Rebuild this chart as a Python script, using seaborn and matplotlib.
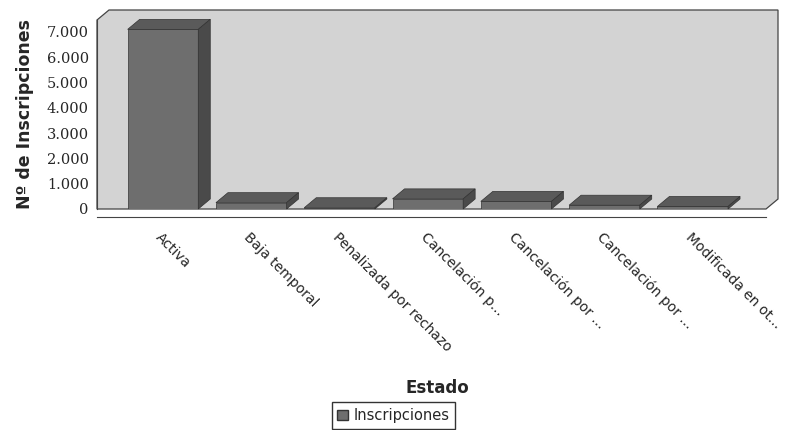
import matplotlib
matplotlib.use("Agg")
import matplotlib.pyplot as plt
import seaborn as sns
import pandas as pd
from matplotlib.patches import Polygon, Patch
from matplotlib.ticker import FuncFormatter, MultipleLocator

# data
estados = ["Activa", "Baja temporal", "Penalizada por rechazo", "Cancelación p...",
           "Cancelación por ...", "Cancelación por ...", "Modificada en ot..."]
inscripciones = [7100, 250, 50, 400, 300, 150, 100]

df = pd.DataFrame({"pos": range(len(estados)), "Inscripciones": inscripciones})

sns.set_style("white")
plt.rcParams["font.family"] = ["DejaVu Sans"]

W, H = 787, 430
fig = plt.figure(figsize=(W / 100, H / 100), dpi=100)
# front plane of the 3d plot
ax_l, ax_r, ax_b, ax_t = 97, 766, 209, 20
ax = fig.add_axes([ax_l / W, 1 - ax_b / H, (ax_r - ax_l) / W, (ax_b - ax_t) / H])
ax.patch.set_alpha(0)

sns.barplot(data=df, x="pos", y="Inscripciones", color="#6e6e6e", width=0.8,
            saturation=1, ax=ax, zorder=3)

xmin, xmax = -0.747, 6.83
ymax = 7470
ax.set_xlim(xmin, xmax)
ax.set_ylim(0, ymax)

# 3d depth offset in pixels
dx_px, dy_px = 12, 10
px_x = (ax_r - ax_l) / (xmax - xmin)
px_y = (ax_b - ax_t) / ymax
ddx, ddy = dx_px / px_x, dy_px / px_y

bars = list(ax.patches)

# back wall
fx, fy = dx_px / (ax_r - ax_l), dy_px / (ax_b - ax_t)
wall = Polygon([(0, 0), (0, 1), (fx, 1 + fy), (1 + fx, 1 + fy), (1 + fx, fy), (1, 0)],
               closed=True, transform=ax.transAxes, facecolor="#d3d3d3",
               edgecolor="#444444", lw=0.9, clip_on=False, zorder=0)
ax.add_patch(wall)

# top and side faces of the bars
for bar in bars:
    x0, w, h = bar.get_x(), bar.get_width(), bar.get_height()
    x1 = x0 + w
    top = Polygon([(x0, h), (x1, h), (x1 + ddx, h + ddy), (x0 + ddx, h + ddy)],
                  facecolor="#5a5a5a", edgecolor="#333333", lw=0.5, clip_on=False, zorder=4)
    side = Polygon([(x1, 0), (x1, h), (x1 + ddx, h + ddy), (x1 + ddx, ddy)],
                   facecolor="#4a4a4a", edgecolor="#333333", lw=0.5, clip_on=False, zorder=4)
    ax.add_patch(top)
    ax.add_patch(side)
    bar.set_edgecolor("#333333")
    bar.set_linewidth(0.5)

sns.despine(ax=ax, top=True, right=True)
ax.spines["left"].set_color("#444444")
ax.spines["bottom"].set_color("#444444")
ax.spines["bottom"].set_position(("outward", 6))

ax.yaxis.set_major_locator(MultipleLocator(1000))
ax.yaxis.set_major_formatter(FuncFormatter(lambda v, p: f"{int(v):,}".replace(",", ".")))
ax.tick_params(axis="y", labelsize=10.5, length=3, color="#444444", pad=3)
for t in ax.get_yticklabels():
    t.set_family("DejaVu Serif")

ax.set_xticks(range(len(estados)))
ax.set_xticklabels(estados, rotation=-45, ha="left", va="top",
                   rotation_mode="anchor", fontsize=10,
                   family=["Liberation Sans Narrow", "DejaVu Sans"])
ax.tick_params(axis="x", length=3, color="#444444", pad=6)

ax.set_ylabel("Nº de Inscripciones", fontsize=12.5, fontweight="bold", labelpad=9)
ax.set_xlabel("Estado", fontsize=12, fontweight="bold")
ax.xaxis.set_label_coords((437 - ax_l) / (ax_r - ax_l), -(388 - ax_b) / (ax_b - ax_t))
ax.xaxis.label.set_va("center")

fig.legend(handles=[Patch(facecolor="#6e6e6e", edgecolor="#333333", label="Inscripciones")],
           loc="upper center", bbox_to_anchor=(0.5, 1 - 402 / H), frameon=True,
           fancybox=False, edgecolor="black", handlelength=0.7,
           handleheight=0.7, handletextpad=0.4, borderpad=0.4, borderaxespad=0,
           prop={"family": ["Liberation Sans Narrow", "DejaVu Sans"], "size": 10.5})

fig.savefig("out.png", dpi=100)
